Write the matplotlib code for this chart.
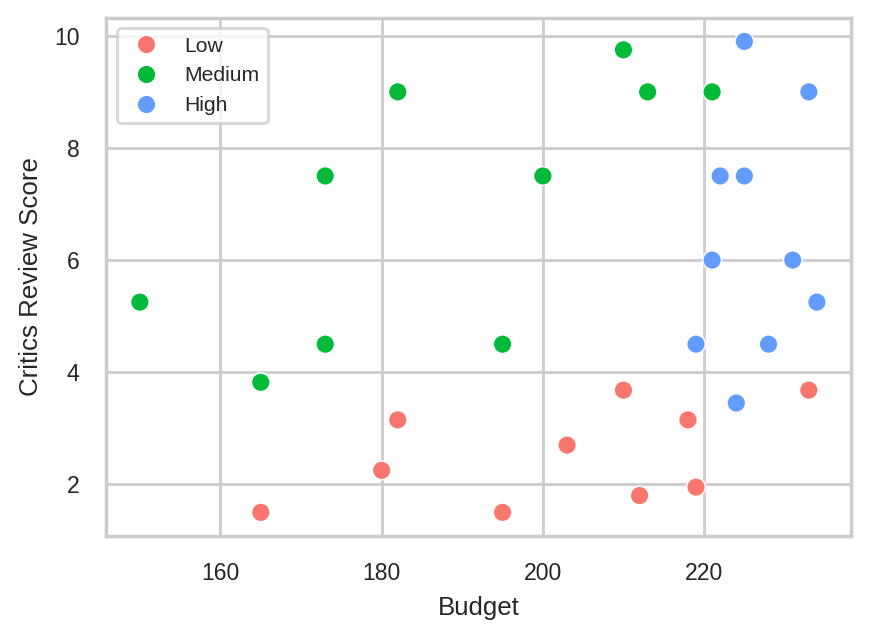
import numpy as np
import matplotlib.pyplot as plt
import seaborn as sns
import pandas as pd

sns.set_theme(style="whitegrid")
plt.rcParams['font.family'] = ['Liberation Sans', 'DejaVu Sans']

low_budget = [165, 180, 182, 195, 203, 210, 212, 218, 219, 233]
low_score = [1.5, 2.25, 3.15, 1.5, 2.7, 3.68, 1.8, 3.15, 1.95, 3.68]

medium_budget = [150, 165, 173, 173, 182, 195, 200, 210, 213, 221]
medium_score = [5.25, 3.82, 7.5, 4.5, 9.0, 4.5, 7.5, 9.75, 9.0, 9.0]

high_budget = [225, 233, 222, 225, 221, 231, 234, 219, 228, 224]
high_score = [9.9, 9.0, 7.5, 7.5, 6.0, 6.0, 5.25, 4.5, 4.5, 3.45]

categories = ["Low", "Medium", "High"]
colors = {"Low": "#F8766D", "Medium": "#00BA38", "High": "#619CFF"}

df = pd.DataFrame({
    "Budget": low_budget + medium_budget + high_budget,
    "Critics Review Score": low_score + medium_score + high_score,
    "Level": ["Low"] * len(low_budget) + ["Medium"] * len(medium_budget) + ["High"] * len(high_budget),
})

fig, ax = plt.subplots(figsize=(4.345, 3.19), dpi=200)
sns.scatterplot(data=df, x="Budget", y="Critics Review Score", hue="Level",
                hue_order=categories, palette=colors, s=45, ax=ax)

ax.set_xticks([160, 180, 200, 220])
ax.set_yticks([2, 4, 6, 8, 10])
ax.tick_params(labelsize=8.3)
ax.set_xlabel("Budget", fontsize=9.3)
ax.set_ylabel("Critics Review Score", fontsize=9.3)
ax.legend(loc="upper left", fontsize=7.6, title=None)

fig.subplots_adjust(left=0.122, right=0.979, top=0.972, bottom=0.160)
plt.savefig("out.png")
